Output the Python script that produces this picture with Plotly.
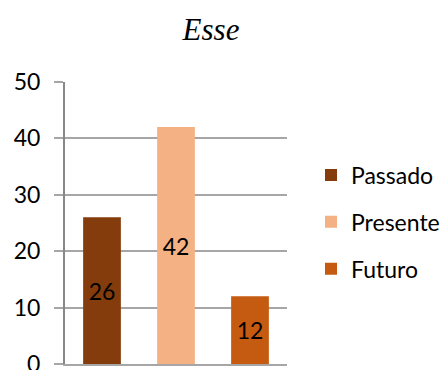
import plotly.graph_objects as go

categories = ["Passado", "Presente", "Futuro"]
values = [26, 42, 12]
colors = ["#843C0C", "#F4B183", "#C55A11"]
title_text = "Esse"
y_ticks = [0, 10, 20, 30, 40, 50]

fig = go.Figure()
for i, (cat, val, col) in enumerate(zip(categories, values, colors)):
    fig.add_trace(go.Bar(
        x=[cat], y=[val], name=cat,
        marker=dict(color=col, line=dict(width=0)),
        width=0.51,
        text=[str(val)], textposition="inside", insidetextanchor="middle",
        textfont=dict(family="Lato", size=23, color="#000000"),
        legendgroup=cat,
    ))

fig.update_layout(
    width=448, height=370,
    margin=dict(l=65, r=161, t=82, b=6),
    paper_bgcolor="white", plot_bgcolor="white",
    barmode="overlay",
    showlegend=True,
    title=dict(text=title_text, x=211/448, xanchor="center", xref="container",
               y=1 - 29/370, yanchor="middle", yref="container",
               font=dict(family="Liberation Serif", size=31, style="italic", color="#000000")),
    legend=dict(xref="container", yref="container", x=311/448, xanchor="left",
                y=1 - 222/370, yanchor="middle",
                font=dict(family="Lato", size=23, color="#000000"),
                tracegroupgap=14, itemwidth=30, bgcolor="rgba(0,0,0,0)"),
    uniformtext=dict(mode=False),
)
fig.update_yaxes(range=[0, 50], tickvals=y_ticks, showgrid=True, gridcolor="#A6A6A6", gridwidth=1.5,
                 ticks="outside", ticklen=9, tickcolor="#A6A6A6", tickwidth=1.5,
                 showline=True, linecolor="#888888", linewidth=2,
                 zeroline=False, ticklabelstandoff=9, automargin=False,
                 ticklabeloverflow="allow",
                 tickfont=dict(family="Lato", size=23, color="#000000"))
fig.update_xaxes(showticklabels=False, showline=True, linecolor="#A6A6A6", linewidth=1.5,
                 showgrid=False, ticks="", automargin=False)

fig.write_html("out.html")
